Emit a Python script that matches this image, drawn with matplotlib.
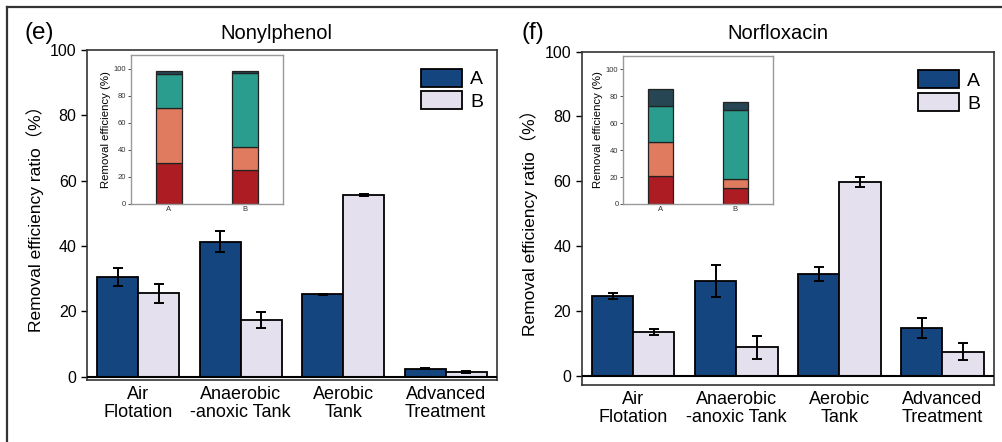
import numpy as np
import matplotlib
matplotlib.use("Agg")
import matplotlib.pyplot as plt
from matplotlib.lines import Line2D

##################################################################################
# 1. DATA
##################################################################################

stages = ["Air\nFlotation", "Anaerobic\n-anoxic Tank", "Aerobic\nTank", "Advanced\nTreatment"]
groups = ["A", "B"]

# Nonylphenol (e)
np_a = [30.6, 41.3, 25.2, 2.5]
np_a_err = [2.7, 3.2, 0.1, 0.1]
np_b = [25.5, 17.3, 55.6, 1.3]
np_b_err = [3.0, 2.4, 0.4, 0.3]
np_inset_a = [30.0, 41.0, 25.0, 2.5]
np_inset_b = [25.0, 17.0, 55.0, 1.5]

# Norfloxacin (f)
nf_a = [24.6, 29.2, 31.4, 14.8]
nf_a_err = [1.0, 4.9, 2.2, 3.1]
nf_b = [13.4, 8.7, 59.8, 7.4]
nf_b_err = [1.0, 3.6, 1.5, 2.6]
nf_inset_a = [21.0, 25.0, 27.0, 12.0]
nf_inset_b = [11.5, 7.0, 51.0, 6.5]

##################################################################################
# 2. STYLE
##################################################################################

plt.rcParams['font.family'] = ['Liberation Sans', 'Noto Sans CJK SC', 'DejaVu Sans']
COL_A = "#15457e"
COL_B = "#e5e0ee"
STACK_COLS = ["#ac1c22", "#e07b5f", "#2a9d8f", "#264653"]

##################################################################################
# 3. PANEL DRAWING
##################################################################################

def draw_main(ax, a, a_err, b, b_err, ymin):
    x = np.arange(len(stages))
    w = 0.4
    ekw = dict(ecolor="black", elinewidth=1.4, capsize=3.5, capthick=1.4)
    ax.bar(x - w / 2, a, w, yerr=a_err, color=COL_A, edgecolor="black", linewidth=1.3, error_kw=ekw, zorder=2)
    ax.bar(x + w / 2, b, w, yerr=b_err, color=COL_B, edgecolor="black", linewidth=1.3, error_kw=ekw, zorder=2)
    ax.axhline(0, color="black", lw=1.5, zorder=3)
    ax.set_xlim(-0.5, 3.5)
    ax.set_ylim(ymin, 100)
    ax.set_yticks(np.arange(0, 101, 20))
    ax.set_xticks(x)
    ax.set_xticklabels(stages, fontsize=13, linespacing=1.15)
    ax.tick_params(axis="x", length=0, pad=4)
    ax.tick_params(axis="y", labelsize=11.5, length=4, width=1, direction="out")
    for s in ax.spines.values():
        s.set_color("#333333"); s.set_linewidth(1.2)
    ax.set_ylabel("Removal efficiency ratio（%）", fontsize=12.5)
    handles = [plt.Rectangle((0, 0), 1, 1, facecolor=COL_A, edgecolor="black", lw=1.3),
               plt.Rectangle((0, 0), 1, 1, facecolor=COL_B, edgecolor="black", lw=1.3)]
    ax.legend(handles, groups, loc="upper right", bbox_to_anchor=(1.0, 0.985), frameon=False,
              fontsize=14, handlelength=2.1, handleheight=1.05, labelspacing=0.15,
              handletextpad=0.45, borderaxespad=0.3)

def draw_inset(ax, ia, ib):
    xs = [0, 1]
    bottoms = np.zeros(2)
    for k in range(len(ia)):
        vals = np.array([ia[k], ib[k]])
        ax.bar(xs, vals, 0.34, bottom=bottoms, color=STACK_COLS[k], edgecolor="#222222", linewidth=0.9)
        bottoms += vals
    ax.set_xlim(-0.5, 1.5)
    ax.set_ylim(0, 110)
    ax.set_yticks(np.arange(0, 101, 20))
    ax.set_xticks(xs)
    ax.set_xticklabels(groups)
    ax.tick_params(labelsize=5.5, length=2, width=0.6, pad=1.5, colors="#333333")
    ax.tick_params(axis="x", length=0)
    for s in ax.spines.values():
        s.set_color("#999999"); s.set_linewidth(1.0)
    ax.set_ylabel("Removal efficiency (%)", fontsize=8.2, labelpad=2)

##################################################################################
# 4. MAIN
##################################################################################

def main():
    fig = plt.figure(figsize=(10.02, 4.42), dpi=100)

    ax_e = fig.add_axes([0.0868, 0.1403, 0.4092, 0.7466])
    draw_main(ax_e, np_a, np_a_err, np_b, np_b_err, -1.0)
    ax_e.yaxis.set_label_coords(-0.105, 0.5)
    in_e = fig.add_axes([0.1304, 0.5385, 0.1517, 0.3371])
    draw_inset(in_e, np_inset_a, np_inset_b)

    ax_f = fig.add_axes([0.5805, 0.129, 0.4115, 0.754])
    draw_main(ax_f, nf_a, nf_a_err, nf_b, nf_b_err, -2.9)
    ax_f.yaxis.set_label_coords(-0.107, 0.5)
    in_f = fig.add_axes([0.622, 0.5385, 0.1491, 0.3355])
    draw_inset(in_f, nf_inset_a, nf_inset_b)

    fig.text(0.0245, 0.925, "(e)", fontsize=17.5, va="center")
    fig.text(0.52, 0.925, "(f)", fontsize=17.5, va="center")
    fig.text(0.2755, 0.925, "Nonylphenol", fontsize=14.5, ha="center", va="center")
    fig.text(0.7765, 0.925, "Norfloxacin", fontsize=14.5, ha="center", va="center")

    # outer frame (top and left edges visible)
    fig.add_artist(Line2D([0.007, 1.0], [0.985, 0.985], color="#333333", lw=1.6, transform=fig.transFigure))
    fig.add_artist(Line2D([0.007, 0.007], [0.0, 0.985], color="#333333", lw=1.6, transform=fig.transFigure))

    fig.savefig("out.png", dpi=100)

if __name__ == "__main__":
    main()
